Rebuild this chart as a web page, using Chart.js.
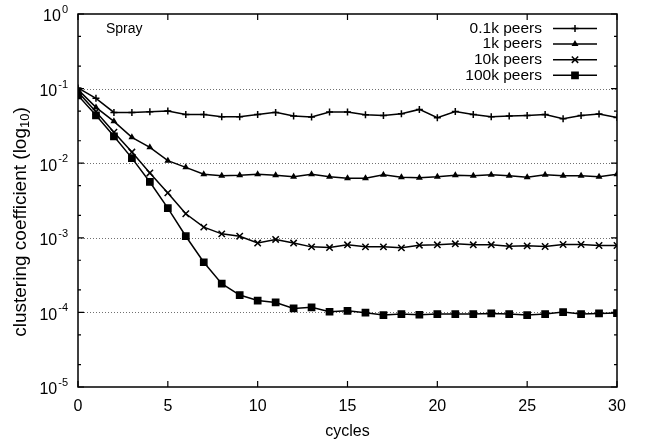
<!DOCTYPE html>
<html><head><meta charset="utf-8">
<script src="https://cdn.jsdelivr.net/npm/chart.js@4"></script>
<style>html,body{margin:0;padding:0;background:#fff}#wrap{width:648px;height:444px}</style>
</head><body><div id="wrap"><canvas id="c" width="648" height="444"></canvas></div>
<script>
const cycles = [0,1,2,3,4,5,6,7,8,9,10,11,12,13,14,15,16,17,18,19,20,21,22,23,24,25,26,27,28,29,30];
const peers01k = [0.102,0.074,0.048,0.048,0.049,0.050,0.045,0.045,0.042,0.042,0.045,0.048,0.043,0.0415,0.0484,0.0484,0.0446,0.0437,0.046,0.0526,0.0406,0.0494,0.0451,0.0419,0.0428,0.0437,0.0451,0.0394,0.0437,0.0455,0.041];
const peers1k = [0.097,0.056,0.0364,0.0222,0.0163,0.0108,0.0088,0.0071,0.0068,0.0069,0.0071,0.0069,0.0066,0.0071,0.0066,0.0063,0.0063,0.0070,0.0065,0.0064,0.0066,0.0069,0.0068,0.0070,0.0068,0.0065,0.0070,0.0068,0.0068,0.0066,0.0071];
const peers10k = [0.090,0.049,0.026,0.0141,0.0074,0.0040,0.0021,0.00139,0.00113,0.00105,0.00085,0.00095,0.00085,0.000756,0.00074,0.000805,0.000756,0.000756,0.000733,0.000796,0.000805,0.00083,0.000805,0.000805,0.000772,0.00078,0.000764,0.000813,0.000813,0.000788,0.000788];
const peers100k = [0.081,0.0438,0.0229,0.0117,0.0056,0.0025,0.00105,0.00047,0.000243,0.000171,0.000144,0.000136,0.000113,0.000117,0.000102,0.000105,0.000099,0.000092,0.000095,0.000093,0.000095,0.000095,0.000095,0.000097,0.000095,0.000092,0.000095,0.000101,0.000095,0.000097,0.000098];
const seriesLabels = ['0.1k peers','1k peers','10k peers','100k peers'];
const yTickValues = [1e-5,1e-4,1e-3,1e-2,1e-1,1];
const yTickBase = '10';
const yTickExponents = ['-5','-4','-3','-2','-1','0'];
const xTickValues = [0,5,10,15,20,25,30];
const gridValues = [1e-1,1e-2,1e-3,1e-4];
const minorMantissas = [2,5];
const panelLabel = 'Spray';
const yTitleMain = 'clustering coefficient (log';
const yTitleSub = '10';
const yTitleEnd = ')';

const FONT = '"Liberation Sans", Arial, Helvetica, sans-serif';
const styles = [
  {pointStyle:'cross', radius:3.5},
  {pointStyle:'triangle', radius:2.5},
  {pointStyle:'crossRot', radius:4.5},
  {pointStyle:'rect', radius:4.4}
];
const seriesData = [peers01k, peers1k, peers10k, peers100k];

const datasets = seriesData.map((arr,i)=>({
  label: seriesLabels[i],
  data: cycles.map((c,j)=>({x:c, y:arr[j]})),
  borderColor:'#000', backgroundColor:'#000',
  borderWidth:1.5, pointStyle:styles[i].pointStyle, pointRadius:styles[i].radius,
  pointBorderWidth:1.5, pointBackgroundColor:'#000', pointBorderColor:'#000',
  tension:0, fill:false
}));

const frame = {
  id:'frame',
  beforeDatasetsDraw(chart){
    const {ctx, chartArea:a, scales:{y}} = chart;
    ctx.save();
    ctx.strokeStyle='#707070'; ctx.lineWidth=1; ctx.setLineDash([1,2]);
    gridValues.forEach(v=>{
      const py=Math.round(y.getPixelForValue(v))+0.5;
      ctx.beginPath(); ctx.moveTo(a.left,py); ctx.lineTo(a.right,py); ctx.stroke();
    });
    ctx.restore();
  },
  afterDatasetsDraw(chart){
    const {ctx, chartArea:a, scales:{x,y}} = chart;
    ctx.save();
    ctx.strokeStyle='#000'; ctx.lineWidth=1.5; ctx.setLineDash([]);
    ctx.strokeRect(a.left, a.top, a.right-a.left, a.bottom-a.top);
    ctx.lineWidth=1.2;
    ctx.beginPath();
    xTickValues.forEach(v=>{
      const px=x.getPixelForValue(v);
      ctx.moveTo(px,a.bottom); ctx.lineTo(px,a.bottom-6);
      ctx.moveTo(px,a.top); ctx.lineTo(px,a.top+6);
    });
    yTickValues.forEach(v=>{
      const py=y.getPixelForValue(v);
      ctx.moveTo(a.left,py); ctx.lineTo(a.left+6,py);
      ctx.moveTo(a.right,py); ctx.lineTo(a.right-6,py);
      if (v<1) {
        minorMantissas.forEach(m=>{
          const pm=y.getPixelForValue(v*m);
          ctx.moveTo(a.left,pm); ctx.lineTo(a.left+3,pm);
          ctx.moveTo(a.right,pm); ctx.lineTo(a.right-3,pm);
        });
      }
    });
    ctx.stroke();
    // y tick labels with superscript exponents
    ctx.fillStyle='#000';
    ctx.textBaseline='middle';
    yTickValues.forEach((v,i)=>{
      const py=y.getPixelForValue(v);
      const right = a.left - 10;
      ctx.font='11px '+FONT;
      ctx.textAlign='right';
      const ew = ctx.measureText(yTickExponents[i]).width;
      ctx.fillText(yTickExponents[i], right, py-4);
      ctx.font='16px '+FONT;
      ctx.fillText(yTickBase, right-ew-1, py+3);
    });
    // y axis title with subscript
    ctx.save();
    ctx.translate(21, 222);
    ctx.rotate(-Math.PI/2);
    ctx.textBaseline='middle'; ctx.textAlign='left';
    ctx.font='19px '+FONT;
    const w1 = ctx.measureText(yTitleMain).width;
    const w3 = ctx.measureText(yTitleEnd).width;
    ctx.font='13px '+FONT;
    const w2 = ctx.measureText(yTitleSub).width;
    const start = -(w1+w2+w3)/2;
    ctx.font='19px '+FONT;
    ctx.fillText(yTitleMain, start, 0);
    ctx.font='13px '+FONT;
    ctx.fillText(yTitleSub, start+w1, 4);
    ctx.font='19px '+FONT;
    ctx.fillText(yTitleEnd, start+w1+w2, 0);
    ctx.restore();
    // panel label
    ctx.font='14px '+FONT;
    ctx.textAlign='left'; ctx.textBaseline='middle';
    ctx.fillText(panelLabel, 106, 29);
    // legend
    ctx.font='15.5px '+FONT;
    chart.data.datasets.forEach((ds,i)=>{
      const ry = 28.5 + i*15.6;
      ctx.textAlign='right'; ctx.textBaseline='middle';
      ctx.fillStyle='#000';
      ctx.fillText(ds.label, 542, ry);
      ctx.lineWidth=1.5; ctx.strokeStyle='#000';
      ctx.beginPath(); ctx.moveTo(553,ry); ctx.lineTo(597,ry); ctx.stroke();
      Chart.helpers.drawPoint(ctx, {pointStyle:ds.pointStyle, radius:ds.pointRadius, borderWidth:1.5, rotation:0}, 575, ry);
    });
    ctx.restore();
  }
};

new Chart(document.getElementById('c'), {
  type:'line',
  data:{datasets},
  options:{
    responsive:false, animation:false, devicePixelRatio:1,
    layout:{padding:{top:14, right:31, left:0, bottom:0}},
    plugins:{legend:{display:false}, tooltip:{enabled:false}},
    scales:{
      x:{
        type:'linear', min:0, max:30,
        afterBuildTicks:s=>{ s.ticks = xTickValues.map(v=>({value:v})); },
        afterFit:s=>{ s.height = 57; },
        grid:{display:false, drawTicks:false}, border:{display:false},
        ticks:{color:'#000', font:{family:FONT, size:16}, padding:10, maxRotation:0},
        title:{display:true, text:'cycles', color:'#000', font:{family:FONT, size:16}, padding:{top:0,bottom:3}}
      },
      y:{
        type:'logarithmic', min:1e-5, max:1,
        afterBuildTicks:s=>{ s.ticks = yTickValues.map(v=>({value:v})); },
        afterFit:s=>{ s.width = 78; },
        grid:{display:false, drawTicks:false}, border:{display:false},
        ticks:{display:false},
        title:{display:false}
      }
    }
  },
  plugins:[frame]
});
</script>
</body></html>
